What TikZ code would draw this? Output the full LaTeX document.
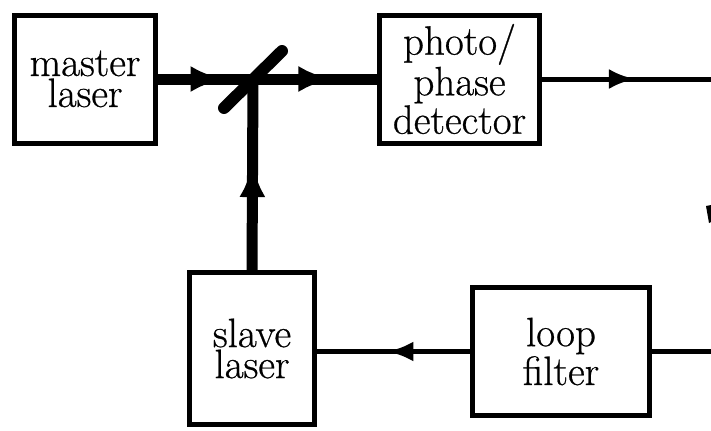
\documentclass[tikz,border=0pt]{standalone}
\usepackage{fontspec}
\setmainfont{Latin Modern Roman}[FakeBold=0.6]
\usetikzlibrary{arrows.meta,decorations.markings}
\begin{document}
\begin{tikzpicture}[
		x=0.5pt, y=-0.5pt,
		every node/.style={font=\fontsize{20.5}{15.5}\selectfont},
		unit/.style={draw, line width=2.5pt, align=center, inner sep=0pt},
		beam/.style={line width=5.5pt},
		wire/.style={line width=2.5pt},
		mirror/.style={line width=6pt, line cap=round},
		beamtip/.style={postaction={decorate}, decoration={markings,
			mark=at position #1 with {\arrow{Latex[length=17pt,width=13pt]}}}},
		wiretip/.style={postaction={decorate}, decoration={markings,
			mark=at position #1 with {\arrow{Latex[length=13pt,width=10pt]}}}}
	]
		\useasboundingbox (0,0) rectangle (711,430);
		% boxes
		\node[unit, minimum width=70.5pt, minimum height=64pt] (master)
			at (85,79) {master\\laser};
		\node[unit, minimum width=80pt, minimum height=64pt] (detector)
			at (459.5,79) {photo/\\phase\\detector};
		\node[unit, minimum width=62.5pt, minimum height=76pt] (slave)
			at (252,348.5) {slave\\laser};
		\node[unit, minimum width=88.5pt, minimum height=64pt,
			font=\fontsize{20.5}{17.5}\selectfont] (filter)
			at (561,351.5) {loop\\filter};
		\coordinate (split) at (253,79);
		\coordinate (pdout) at (711,79);
		\coordinate (lfout) at (711,351.5);
		% optical paths
		\draw[beam, beamtip=0.7] (master.east) -- (split);
		\draw[beam, beamtip=0.64] (split) -- (detector.west);
		\draw[beam, beamtip=0.56] (slave.north) -- (split);
		\draw[mirror] ([shift={(-29,29)}]split) -- ([shift={(29,-28)}]split);
		% electrical paths
		\draw[wire, wiretip=0.55] (detector.east) -- (pdout);
		\draw[wire, wiretip=0.54] (filter.west) -- (filter.west -| slave.east);
		\draw[wire] (filter.east) -- (lfout);
		% cut-off mark at right edge
		\fill (706,206) -- (711,205) -- (711,222) -- (709,223) -- cycle;
	\end{tikzpicture}
\end{document}
